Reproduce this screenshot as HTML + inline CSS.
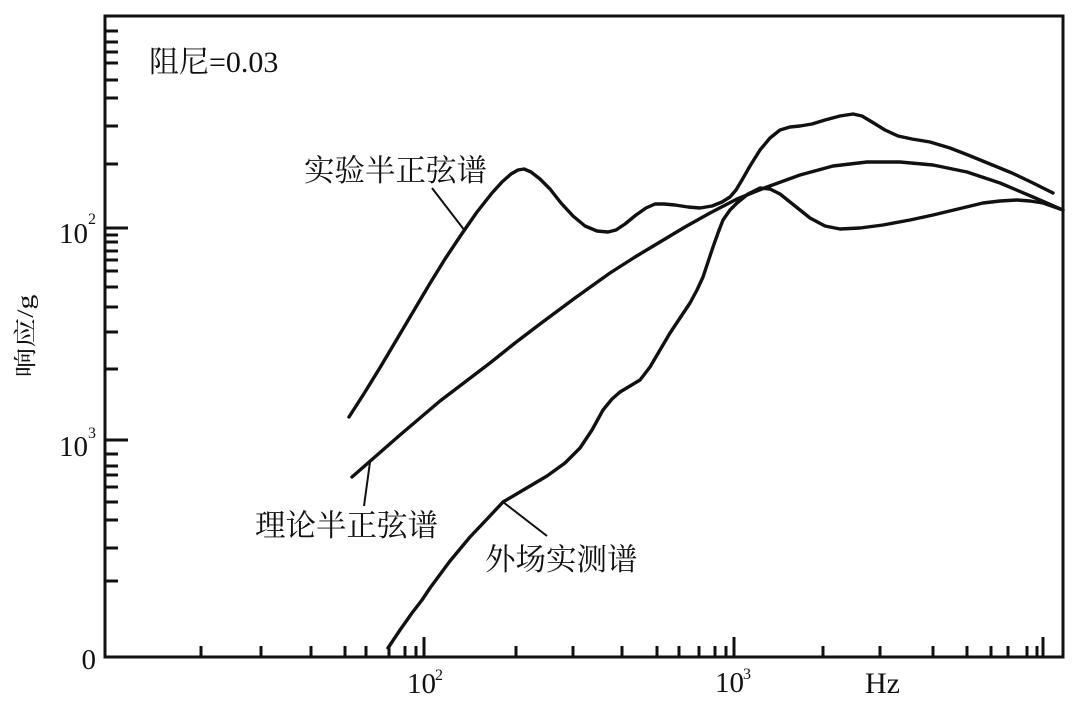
<!DOCTYPE html>
<html>
<head>
<meta charset="utf-8">
<style>
html,body{margin:0;padding:0;background:#fff;}
svg{display:block;}
text{font-family:"Liberation Serif","Noto Serif CJK SC",serif;fill:#111;}
</style>
</head>
<body>
<svg width="1080" height="703" viewBox="0 0 1080 703" xmlns="http://www.w3.org/2000/svg">
<rect width="1080" height="703" fill="#fff"/>
<!-- axes box -->
<rect x="105" y="16" width="958" height="641" fill="none" stroke="#111" stroke-width="3"/>
<!-- y ticks -->
<g stroke="#111" stroke-width="3">
<line x1="105" y1="228" x2="128" y2="228"/>
<line x1="105" y1="440" x2="128" y2="440"/>
<line x1="105" y1="31" x2="118" y2="31"/>
<line x1="105" y1="42" x2="118" y2="42"/>
<line x1="105" y1="52" x2="118" y2="52"/>
<line x1="105" y1="63" x2="118" y2="63"/>
<line x1="105" y1="80" x2="118" y2="80"/>
<line x1="105" y1="98" x2="118" y2="98"/>
<line x1="105" y1="126" x2="118" y2="126"/>
<line x1="105" y1="164" x2="118" y2="164"/>
<line x1="105" y1="235" x2="118" y2="235"/>
<line x1="105" y1="242" x2="118" y2="242"/>
<line x1="105" y1="251" x2="118" y2="251"/>
<line x1="105" y1="260" x2="118" y2="260"/>
<line x1="105" y1="271" x2="118" y2="271"/>
<line x1="105" y1="287" x2="118" y2="287"/>
<line x1="105" y1="307" x2="118" y2="307"/>
<line x1="105" y1="332" x2="118" y2="332"/>
<line x1="105" y1="369" x2="118" y2="369"/>
<line x1="105" y1="454" x2="118" y2="454"/>
<line x1="105" y1="466" x2="118" y2="466"/>
<line x1="105" y1="475" x2="118" y2="475"/>
<line x1="105" y1="487" x2="118" y2="487"/>
<line x1="105" y1="502" x2="118" y2="502"/>
<line x1="105" y1="520" x2="118" y2="520"/>
<line x1="105" y1="548" x2="118" y2="548"/>
<line x1="105" y1="581" x2="118" y2="581"/>
</g>
<!-- x ticks -->
<g stroke="#111" stroke-width="3">
<line x1="424" y1="657" x2="424" y2="637"/>
<line x1="734" y1="657" x2="734" y2="637"/>
<line x1="1043" y1="657" x2="1043" y2="637"/>
<line x1="201" y1="657" x2="201" y2="646"/>
<line x1="261" y1="657" x2="261" y2="646"/>
<line x1="311" y1="657" x2="311" y2="646"/>
<line x1="345" y1="657" x2="345" y2="646"/>
<line x1="366" y1="657" x2="366" y2="646"/>
<line x1="389" y1="657" x2="389" y2="646"/>
<line x1="405" y1="657" x2="405" y2="646"/>
<line x1="416" y1="657" x2="416" y2="646"/>
<line x1="516" y1="657" x2="516" y2="646"/>
<line x1="573" y1="657" x2="573" y2="646"/>
<line x1="622" y1="657" x2="622" y2="646"/>
<line x1="657" y1="657" x2="657" y2="646"/>
<line x1="679" y1="657" x2="679" y2="646"/>
<line x1="699" y1="657" x2="699" y2="646"/>
<line x1="715" y1="657" x2="715" y2="646"/>
<line x1="726" y1="657" x2="726" y2="646"/>
<line x1="823" y1="657" x2="823" y2="646"/>
<line x1="880" y1="657" x2="880" y2="646"/>
<line x1="933" y1="657" x2="933" y2="646"/>
<line x1="967" y1="657" x2="967" y2="646"/>
<line x1="991" y1="657" x2="991" y2="646"/>
<line x1="1008" y1="657" x2="1008" y2="646"/>
<line x1="1027" y1="657" x2="1027" y2="646"/>
<line x1="1037" y1="657" x2="1037" y2="646"/>
</g>
<!-- y labels -->
<text x="88" y="243" font-size="29" text-anchor="end">10</text>
<text x="88" y="224" font-size="16">2</text>
<text x="88" y="456" font-size="29" text-anchor="end">10</text>
<text x="88" y="438" font-size="16">3</text>
<text x="96" y="669" font-size="29" text-anchor="end">0</text>
<!-- x labels -->
<text x="407" y="693" font-size="29">10</text>
<text x="435" y="680" font-size="16">2</text>
<text x="715" y="692" font-size="29">10</text>
<text x="743" y="679" font-size="16">3</text>
<text x="865" y="693" font-size="30">Hz</text>
<!-- y title -->
<text transform="translate(33,336) rotate(-90)" font-size="23" text-anchor="middle" textLength="83" lengthAdjust="spacingAndGlyphs">响应/g</text>
<!-- annotation -->
<text x="149" y="72" font-size="30">阻尼=0.03</text>
<text x="304" y="181" font-size="30.5">实验半正弦谱</text>
<text x="255" y="536" font-size="30.5">理论半正弦谱</text>
<text x="485" y="570" font-size="30.5">外场实测谱</text>
<!-- leaders -->
<g stroke="#111" stroke-width="2">
<line x1="432" y1="188" x2="465" y2="231"/>
<line x1="370" y1="462" x2="364" y2="506"/>
<line x1="503" y1="502" x2="547" y2="536"/>
</g>
<!-- curves -->
<g fill="none" stroke="#111" stroke-width="3.4" stroke-linejoin="round" stroke-linecap="round">
<polyline points="349,417 365,392 381,366 397,339 413,312 429,285 445,259 461,235 477,212 492,193 502,182 511,174 518,170 524,169 531,172 540,179 550,189 561,203 573,216 585,226 597,231 608,232 616,230 625,224 636,215 646,208 655,204 664,204 675,205 688,207 700,208 712,206 722,202 730,197 736,190 742,180 750,166 760,150 770,138 780,130 790,127 800,126 812,124 825,120 840,116 853,114 862,116 872,122 885,130 898,136 912,139 930,142 950,148 968,155 990,164 1012,173 1033,183 1053,193"/>
<polyline points="352,477 376,456 400,435 420,418 440,401 465,382 490,363 515,343 540,324 575,298 610,273 635,257 660,242 685,227 710,213 737,199 767,187 800,175 833,166 867,162 900,162 933,165 967,172 1000,183 1033,197 1063,210"/>
<polyline points="388,648 400,630 412,613 422,600 430,588 450,561 470,537 488,518 503,502 525,489 547,476 565,463 580,448 592,430 603,410 612,399 620,392 630,386 640,380 650,367 660,350 670,333 680,318 690,303 697,290 703,277 708,262 713,247 718,233 723,220 730,210 737,203 748,194 760,188 770,189 780,194 795,206 810,218 825,226 840,229 860,228 883,225 910,220 933,215 958,209 983,203 1000,201 1017,200 1030,201 1043,203 1063,210"/>
</g>
</svg>
</body>
</html>
